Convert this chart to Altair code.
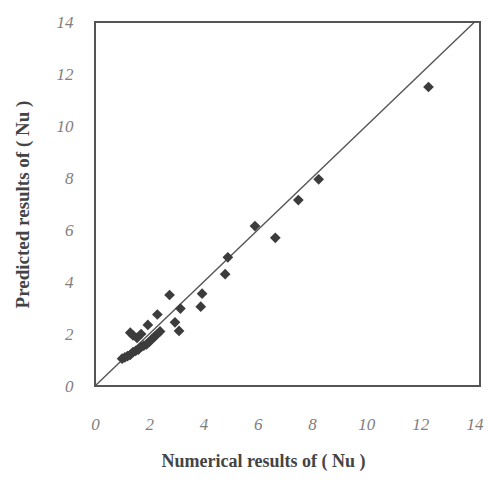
import altair as alt
import pandas as pd

# Numerical (x) vs predicted (y) Nusselt numbers
numerical = [1.0, 1.1, 1.2, 1.3, 1.4, 1.5, 1.6, 1.7, 1.8, 1.9, 2.0, 2.1, 2.2, 2.3, 2.4,
             1.3, 1.4, 1.55, 1.7, 1.95, 2.3, 2.75,
             2.95, 3.1, 3.15, 3.9, 3.95, 4.8, 4.9, 5.9, 6.65, 7.5, 8.25, 12.3]
predicted = [1.05, 1.1, 1.15, 1.2, 1.3, 1.35, 1.4, 1.5, 1.55, 1.6, 1.7, 1.8, 1.9, 2.0, 2.1,
             2.05, 1.95, 1.85, 2.0, 2.35, 2.75, 3.5,
             2.45, 2.12, 2.98, 3.05, 3.55, 4.3, 4.95, 6.15, 5.7, 7.15, 7.95, 11.5]
line_x = [0, 14]
line_y = [0, 14]
ticks = [0, 2, 4, 6, 8, 10, 12, 14]

pts = pd.DataFrame({"x": numerical, "y": predicted})
ln = pd.DataFrame({"x": line_x, "y": line_y})

xs = alt.Scale(domain=[0, 14.2], nice=False, zero=False)
ys = alt.Scale(domain=[0, 14], nice=False, zero=False)

xaxis = alt.Axis(values=ticks, title="Numerical results of ( Nu )", grid=False,
                 domain=False, ticks=False, labelPadding=30, labelFont="Liberation Serif",
                 labelFontStyle="italic", labelFontSize=17, labelColor="#808080",
                 titleFont="Liberation Serif", titleFontSize=18, titleFontWeight="bold",
                 titleColor="#444444", titlePadding=20, titleX=168, titleAlign="center",
                 labelFlush=False)
yaxis = alt.Axis(values=ticks, title="Predicted results of ( Nu )", grid=False,
                 domain=False, ticks=False, labelPadding=22, labelFont="Liberation Serif",
                 labelFontStyle="italic", labelFontSize=17, labelColor="#808080",
                 titleFont="Liberation Serif", titleFontSize=19, titleFontWeight="bold",
                 titleColor="#444444", titlePadding=24, labelFlush=False)

line = alt.Chart(ln).mark_line(color="#555555", strokeWidth=1.4).encode(
    x=alt.X("x:Q", scale=xs, axis=xaxis),
    y=alt.Y("y:Q", scale=ys, axis=yaxis),
)
points = alt.Chart(pts).mark_point(shape="diamond", filled=True, size=115,
                                   color="#3c3c3c", opacity=1).encode(
    x=alt.X("x:Q", scale=xs),
    y=alt.Y("y:Q", scale=ys),
)

chart = alt.layer(line, points).properties(
    width=385, height=364,
    autosize=alt.AutoSizeParams(type="none"),
    padding={"left": 95, "top": 22, "right": 8, "bottom": 104},
    background="white",
).configure_view(stroke="#555555", strokeWidth=2)

chart.save("out.html", embed_options={"renderer": "svg", "actions": False})
